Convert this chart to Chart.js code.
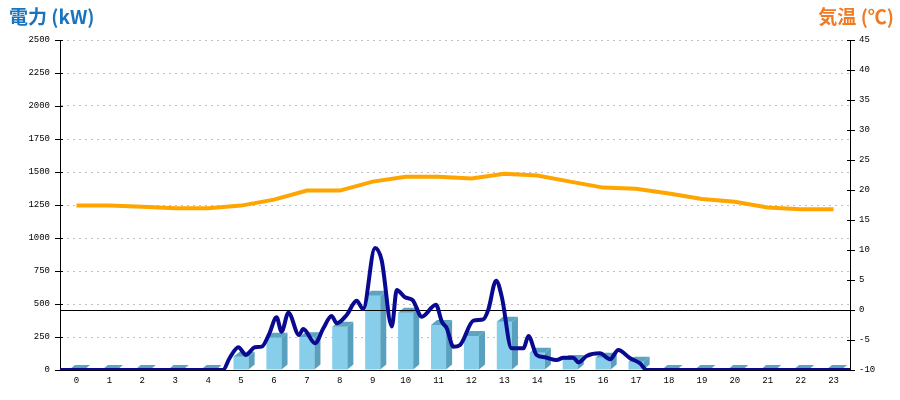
<!DOCTYPE html>
<html>
<head>
<meta charset="utf-8">
<script src="https://cdn.jsdelivr.net/npm/chart.js@4"></script>
<style>
  body { margin: 0; background: #fff; }
  #wrap { position: relative; width: 900px; height: 400px; }
  .ttl { position: absolute; top: 6px; font: bold 19px "Noto Sans CJK JP", "Noto Sans", sans-serif; line-height: 20px; }
  #tl { left: 9px; color: #1a73bd; }
  #tr { right: 6px; color: #ef7b27; }
</style>
</head>
<body>
<div id="wrap">
  <canvas id="c" width="900" height="400"></canvas>
  <div class="ttl" id="tl">電力 (kW)</div>
  <div class="ttl" id="tr">気温 (℃)</div>
</div>
<script>
// hourly categories
const hours = ["0","1","2","3","4","5","6","7","8","9","10","11","12","13","14","15","16","17","18","19","20","21","22","23"]
// hourly power bars (kW)
const hourlyPower = [0,0,0,0,0,100,245,248,328,562,434,341,258,366,130,76,93,63,0,0,0,0,0,0]
// temperature per hour (C)
const temps = [17.4,17.4,17.2,16.95,16.95,17.4,18.4,19.9,19.9,21.4,22.2,22.2,21.9,22.7,22.4,21.4,20.4,20.2,19.4,18.5,18.05,17.1,16.8,16.8]
// detailed power readings, time in hours
const powerTimes = [0,4.95,5.15,5.42,5.65,5.92,6.13,6.35,6.58,6.73,6.94,7.26,7.39,7.75,8.0,8.25,8.41,8.71,9.01,9.21,9.57,9.77,10.08,10.23,10.48,10.71,10.99,11.42,11.6,11.75,11.95,12.15,12.56,12.86,13.01,13.25,13.42,13.72,14.08,14.23,14.48,14.73,15.09,15.29,15.59,15.75,16.0,16.4,16.71,16.96,17.32,17.62,17.82,24]
const powerValues = [0,0,89,172,114,172,177,270,399,290,434,265,311,202,316,409,354,417,525,462,925,833,330,606,551,530,404,495,366,316,177,189,374,384,455,677,556,164,164,258,114,96,76,93,93,58,106,126,81,152,89,51,0,0]

const tickFont = { family: "Liberation Mono", size: 9 }

var powerPts = powerTimes.map((t, i) => ({ x: t, y: powerValues[i] }))
var tempPts = temps.map((v, i) => ({ x: i + 0.5, y: v }))

const deco = {
    id: "deco",
    afterDatasetDraw(chart, args) {
        if (args.index !== 0) return
        const ctx = chart.ctx
        const d = 6, h = 5
        ctx.save()
        chart.getDatasetMeta(0).data.forEach(bar => {
            var L = bar.x - bar.width / 2, R = bar.x + bar.width / 2
            var T = bar.y, B = bar.base
            // side face
            ctx.fillStyle = "#58a0bd"
            ctx.beginPath()
            ctx.moveTo(R, B); ctx.lineTo(R + d, B - h); ctx.lineTo(R + d, T - h); ctx.lineTo(R, T)
            ctx.closePath(); ctx.fill()
            // top face
            ctx.fillStyle = "#5ca4c1"
            ctx.beginPath()
            ctx.moveTo(L, T); ctx.lineTo(R, T); ctx.lineTo(R + d, T - h); ctx.lineTo(L + d, T - h)
            ctx.closePath(); ctx.fill()
        })
        // 0 C line
        var y0 = Math.round(chart.scales.y1.getPixelForValue(0)) + 0.5
        ctx.strokeStyle = "#000"
        ctx.lineWidth = 1
        ctx.beginPath()
        ctx.moveTo(chart.chartArea.left, y0); ctx.lineTo(chart.chartArea.right, y0)
        ctx.stroke()
        ctx.restore()
    },
    afterDraw(chart) {
        const ctx = chart.ctx
        const a = chart.chartArea
        ctx.save()
        ctx.strokeStyle = "#000"
        ctx.lineWidth = 1
        ctx.beginPath()
        chart.scales.y.ticks.forEach(t => {
            var y = Math.round(chart.scales.y.getPixelForValue(t.value)) + 0.5
            ctx.moveTo(a.left - 5, y); ctx.lineTo(a.left + 3, y)
        })
        chart.scales.y1.ticks.forEach(t => {
            var y = Math.round(chart.scales.y1.getPixelForValue(t.value)) + 0.5
            ctx.moveTo(a.right - 3, y); ctx.lineTo(a.right + 5, y)
        })
        ctx.stroke()
        ctx.restore()
    }
}

var chart = new Chart(document.getElementById("c"), {
    type: "bar",
    data: {
        labels: hours,
        datasets: [{
            type: "bar",
            data: hourlyPower,
            backgroundColor: "#87ceeb",
            xAxisID: "x",
            yAxisID: "y",
            grouped: false,
            categoryPercentage: 1,
            barPercentage: 0.46,
            order: 3
        }, {
            type: "line",
            data: tempPts,
            borderColor: "#ffa500",
            borderWidth: 4,
            pointRadius: 0,
            tension: 0,
            xAxisID: "xt",
            yAxisID: "y1",
            order: 1
        }, {
            type: "line",
            data: powerPts,
            borderColor: "#0a0a90",
            borderWidth: 4,
            pointRadius: 0,
            cubicInterpolationMode: "monotone",
            xAxisID: "xt",
            yAxisID: "y",
            order: 0
        }]
    },
    options: {
        responsive: false,
        devicePixelRatio: 1,
        animation: false,
        layout: { padding: { top: 40, left: 0, right: 0, bottom: 0 } },
        plugins: { legend: { display: false }, tooltip: { enabled: false } },
        scales: {
            x: {
                offset: true,
                grid: { display: false, drawTicks: false },
                border: { color: "#000", width: 1 },
                ticks: { font: tickFont, color: "#000", padding: 5, maxRotation: 0, autoSkip: false },
                afterFit: s => { s.height = 30 }
            },
            xt: {
                type: "linear",
                display: false,
                offset: false,
                grid: { offset: false },
                min: 0,
                max: 24
            },
            y: {
                position: "left",
                min: 0,
                max: 2500,
                ticks: { stepSize: 250, font: tickFont, color: "#000", padding: 10, callback: v => String(v) },
                grid: { color: "#c0c0c0", drawTicks: false },
                border: { color: "#000", width: 1, dash: [2, 4] },
                afterFit: s => { s.width = 60 }
            },
            y1: {
                position: "right",
                min: -10,
                max: 45,
                ticks: { stepSize: 5, font: tickFont, color: "#000", padding: 9, callback: v => String(v) },
                grid: { display: false, drawTicks: false },
                border: { color: "#000", width: 1 },
                afterFit: s => { s.width = 50 }
            }
        }
    },
    plugins: [deco]
})
</script>
</body>
</html>
